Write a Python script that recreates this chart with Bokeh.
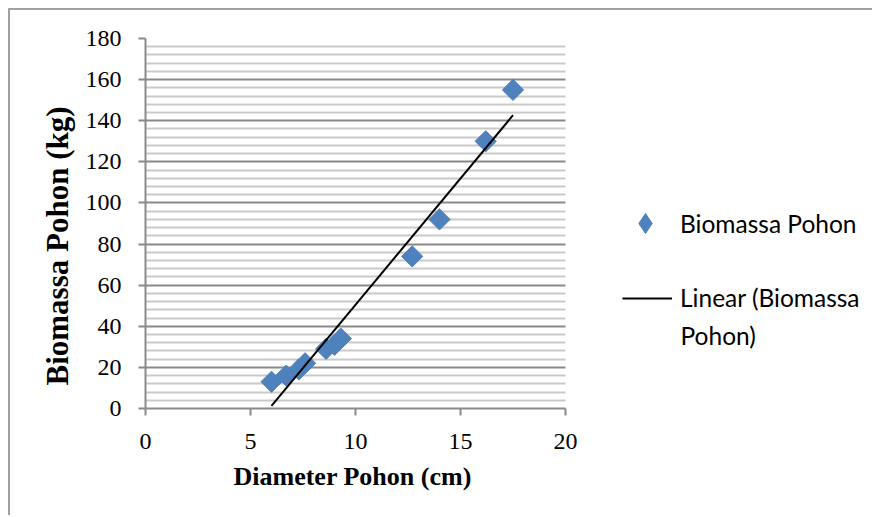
import numpy as np
from bokeh.plotting import figure
from bokeh.models import (Range1d, FixedTicker, Legend, LegendItem, ColumnDataSource,
                          Label, Title)
from bokeh.embed import file_html
from bokeh.resources import INLINE

# ---- data ----
diameter_cm = [6.0, 6.7, 7.3, 7.6, 8.6, 9.0, 9.3, 12.7, 14.0, 16.2, 17.5]
biomassa_kg = [13, 16, 19, 22, 29, 31, 34, 74, 92, 130, 155]
x_ticks = [0, 5, 10, 15, 20]
y_ticks = [0, 20, 40, 60, 80, 100, 120, 140, 160, 180]
y_minor = [v for v in range(0, 181, 4) if v % 20 != 0]
series_name = "Biomassa Pohon"
trend_name_1 = "Linear (Biomassa"
trend_name_2 = "Pohon)"
x_title = "Diameter Pohon (cm)"
y_title = "Biomassa Pohon (kg)"

# linear trend line (least squares), spanning the data range
slope, intercept = np.polyfit(diameter_cm, biomassa_kg, 1)
trend_x = [min(diameter_cm), max(diameter_cm)]
trend_y = [slope * v + intercept for v in trend_x]

# ---- layout ----
W, H = 864, 507
LEFT, TOP, BOTTOM = 135, 28, 109
PLOT_W = 420                      # width of the 0..20 plot area
FRAME_W = W - LEFT                # frame extends right so the legend can sit inside it
x_end = 20 * FRAME_W / PLOT_W

p = figure(width=W, height=H, x_range=Range1d(0, x_end), y_range=Range1d(0, 180),
           output_backend="svg", toolbar_location=None,
           min_border_left=LEFT, min_border_right=0, min_border_top=TOP, min_border_bottom=BOTTOM)
p.margin = (8, 0, 0, 8)
p.styles = {"border-left": "2px solid #a0a0a0", "border-top": "2px solid #a0a0a0"}
p.outline_line_color = None
p.background_fill_color = "white"
p.border_fill_color = "white"

# grid
p.xgrid.grid_line_color = None
p.yaxis.ticker = FixedTicker(ticks=y_ticks, minor_ticks=y_minor)
p.xaxis.ticker = FixedTicker(ticks=x_ticks)
p.xaxis.bounds = (0, 20)
p.ygrid.cross_bounds = (0, 20)
p.ygrid.grid_line_color = "#8a8a8a"
p.ygrid.grid_line_width = 2
p.ygrid.minor_grid_line_color = "#c9c9c9"
p.ygrid.minor_grid_line_width = 2

for ax in (p.xaxis, p.yaxis):
    ax.axis_line_color = "#8a8a8a"
    ax.axis_line_width = 2
    ax.major_tick_line_color = "#8a8a8a"
    ax.major_tick_line_width = 2
    ax.major_tick_out = 7
    ax.major_tick_in = 0
    ax.minor_tick_out = 0
    ax.minor_tick_in = 0
    ax.major_label_text_font = "Liberation Serif"
    ax.major_label_text_font_size = "24px"
    ax.major_label_text_color = "black"
p.xaxis.major_label_standoff = 18
p.yaxis.major_label_standoff = 17

# axis titles as side titles so they can be placed along the 0..20 area
p.add_layout(Title(text=x_title, align="left", offset=88, standoff=16,
                   text_font="Liberation Serif", text_font_size="26px",
                   text_font_style="bold", text_color="black"), "below")
p.add_layout(Title(text=y_title, align="left", offset=23, standoff=16,
                   text_font="Liberation Serif", text_font_size="31px",
                   text_font_style="bold", text_color="black"), "left")

src = ColumnDataSource(dict(x=diameter_cm, y=biomassa_kg))
sc = p.scatter("x", "y", source=src, marker="square", size=15, angle=np.pi / 4,
               fill_color="#4f81bd", line_color="#4f81bd", line_width=1)
ln = p.line(trend_x, trend_y, line_color="black", line_width=2)
# legend-only key glyph (no drawable points) so the legend shows a diamond symbol
key_src = ColumnDataSource(dict(x=[np.nan], y=[np.nan]))
sc_key = p.scatter("x", "y", source=key_src, marker="diamond",
                   fill_color="#4f81bd", line_color="#4f81bd")

def make_legend(item, loc, gw, gh, standoff):
    lg = Legend(items=[item], location=loc)
    lg.border_line_color = None
    lg.background_fill_alpha = 0
    lg.padding = 0
    lg.margin = 0
    lg.glyph_width = gw
    lg.glyph_height = gh
    lg.label_standoff = standoff
    lg.label_text_font = "Lato"
    lg.label_text_font_size = "24.5px"
    lg.label_text_color = "black"
    return lg

# legend locations: bottom-left corner, in pixels from the frame's bottom-left
leg1 = make_legend(LegendItem(label=series_name, renderers=[sc_key]), (475, 160), 50, 50, 10)
leg2 = make_legend(LegendItem(label=trend_name_1, renderers=[ln]), (477, 96), 50, 20, 8)
p.add_layout(leg1)
p.add_layout(leg2)
p.add_layout(Label(x=535, y=73, x_units="screen", y_units="screen", text=trend_name_2,
                   text_font="Lato", text_font_size="24.5px", text_color="black",
                   text_baseline="middle"))

open("out.html", "w").write(file_html(p, INLINE))
